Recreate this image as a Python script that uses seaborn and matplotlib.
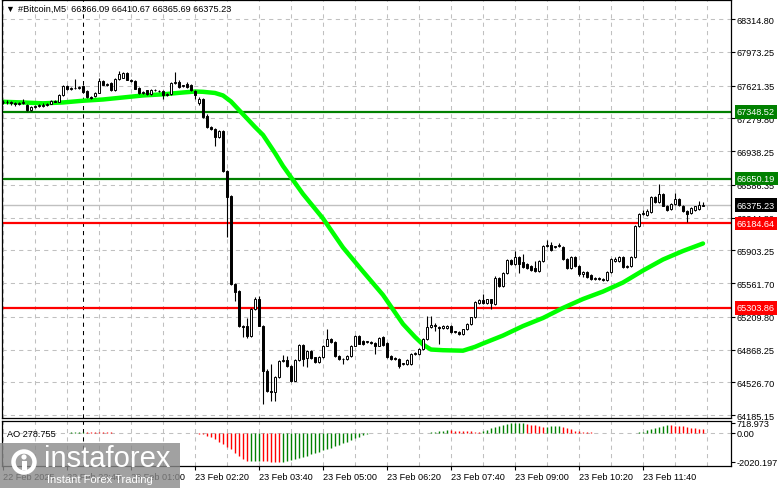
import numpy as np
import pandas as pd
import matplotlib
matplotlib.use("Agg")
import matplotlib.pyplot as plt
import seaborn as sns
from matplotlib.patches import Rectangle, Circle

# bar index: 0 = 23 Feb 00:00, one bar = 5 minutes
bar_start = -20

opens = [67450, 67445, 67455, 67435, 67425, 67440, 67420, 67370, 67400, 67405,
         67410, 67420, 67430, 67460, 67455, 67523, 67613, 67588, 67592, 67600,
         67620, 67560, 67500, 67515, 67545, 67670, 67630, 67650, 67570, 67690,
         67705, 67750, 67680, 67670, 67600, 67545, 67570, 67530, 67575, 67565,
         67560, 67525, 67530, 67650, 67660, 67615, 67640, 67630, 67560, 67440,
         67480, 67307, 67186, 67170, 67080, 67150, 66733, 66470, 65551, 65480,
         65115, 65110, 65010, 65290, 65395, 65117, 64647, 64440, 64420, 64578,
         64752, 64760, 64700, 64543, 64758, 64915, 64776, 64855, 64785, 64735,
         64790, 64908, 64978, 64945, 64804, 64770, 64765, 64800, 64908, 65013,
         64960, 64945, 64950, 64940, 64910, 65000, 64940, 64800, 64770, 64770,
         64715, 64720, 64720, 64820, 64825, 64874, 64978, 65100, 65120, 65100,
         65090, 65090, 65110, 65055, 65050, 65030, 65080, 65134, 65205, 65350,
         65380, 65350, 65390, 65345, 65612, 65535, 65667, 65802, 65760, 65830,
         65780, 65760, 65740, 65720, 65690, 65790, 65950, 65960, 65935, 65945,
         65940, 65810, 65720, 65830, 65740, 65656, 65680, 65650, 65600, 65605,
         65600, 65595, 65675, 65790, 65790, 65830, 65725, 65740, 65830, 66160,
         66280, 66270, 66300, 66455, 66410, 66490, 66370, 66330, 66390, 66440,
         66370, 66310, 66290, 66320, 66330, 66366.09]
highs = [67475, 67470, 67465, 67450, 67450, 67485, 67430, 67410, 67420, 67425,
         67435, 67440, 67470, 67475, 67530, 67625, 67625, 67605, 67690, 67615,
         67630, 67570, 67510, 67550, 67705, 67680, 67650, 67660, 67700, 67770,
         67760, 67760, 67690, 67680, 67610, 67560, 67580, 67590, 67585, 67575,
         67570, 67540, 67660, 67760, 67680, 67630, 67660, 67640, 67570, 67500,
         67490, 67320, 67200, 67180, 67160, 67160, 66745, 66480, 65560, 65490,
         65125, 65200, 65300, 65420, 65430, 65125, 64660, 64720, 64590, 64760,
         64810, 64800, 64710, 64770, 64930, 64925, 64860, 64865, 64795, 64800,
         64915, 65082, 64990, 64955, 64815, 64780, 64810, 64915, 65020, 65020,
         64970, 64960, 64960, 64950, 65000, 65010, 64950, 64810, 64785, 64780,
         64730, 64765, 64830, 64840, 64880, 64985, 65220, 65220, 65145, 65110,
         65125, 65120, 65120, 65065, 65060, 65085, 65140, 65210, 65375, 65390,
         65447, 65400, 65400, 65640, 65620, 65680, 65810, 65815, 65900, 65840,
         65860, 65770, 65750, 65790, 65800, 65960, 66010, 65990, 65950, 65980,
         65950, 65820, 65840, 65840, 65750, 65690, 65690, 65660, 65620, 65625,
         65615, 65685, 65825, 65830, 65840, 65840, 65750, 65840, 66170, 66290,
         66320, 66330, 66465, 66470, 66595, 66500, 66380, 66400, 66500, 66450,
         66380, 66320, 66350, 66370, 66420, 66410.67]
lows = [67430, 67425, 67420, 67410, 67415, 67430, 67360, 67360, 67390, 67395,
        67400, 67410, 67425, 67445, 67450, 67515, 67580, 67575, 67585, 67585,
        67545, 67490, 67480, 67505, 67540, 67625, 67620, 67565, 67565, 67680,
        67695, 67675, 67660, 67585, 67535, 67530, 67520, 67520, 67560, 67550,
        67480, 67515, 67525, 67640, 67600, 67605, 67600, 67565, 67480, 67420,
        67280, 67180, 67160, 66994, 67070, 66720, 66040, 65540, 65378, 65105,
        64995, 64990, 65000, 65280, 65110, 64300, 64430, 64335, 64335, 64570,
        64740, 64690, 64530, 64535, 64750, 64700, 64690, 64770, 64725, 64725,
        64780, 64900, 64935, 64795, 64760, 64720, 64755, 64790, 64900, 64925,
        64920, 64935, 64930, 64820, 64900, 64910, 64780, 64760, 64755, 64680,
        64705, 64710, 64710, 64810, 64815, 64865, 64970, 65090, 65060, 64930,
        65080, 65080, 65045, 65040, 65020, 65020, 65070, 65125, 65195, 65340,
        65340, 65340, 65290, 65335, 65525, 65525, 65655, 65750, 65750, 65670,
        65715, 65710, 65690, 65680, 65680, 65780, 65940, 65900, 65925, 65935,
        65800, 65710, 65710, 65730, 65640, 65620, 65610, 65590, 65590, 65595,
        65585, 65585, 65665, 65780, 65780, 65720, 65715, 65730, 65820, 66150,
        66270, 66260, 66290, 66400, 66400, 66360, 66310, 66320, 66380, 66370,
        66300, 66200, 66280, 66310, 66320, 66365.69]
closes = [67445, 67455, 67435, 67425, 67440, 67450, 67370, 67400, 67405, 67410,
          67420, 67430, 67460, 67455, 67523, 67613, 67588, 67592, 67600, 67605,
          67550, 67500, 67490, 67545, 67672, 67630, 67640, 67570, 67690, 67740,
          67750, 67680, 67670, 67590, 67540, 67550, 67530, 67580, 67570, 67560,
          67520, 67530, 67650, 67660, 67610, 67620, 67610, 67570, 67520, 67480,
          67290, 67186, 67170, 67081, 67150, 66733, 66456, 65551, 65465, 65115,
          65100, 65010, 65290, 65395, 65117, 64647, 64438, 64420, 64578, 64752,
          64760, 64700, 64543, 64758, 64915, 64770, 64855, 64776, 64735, 64790,
          64908, 64978, 64945, 64804, 64770, 64765, 64800, 64908, 65013, 64930,
          64930, 64950, 64940, 64910, 64990, 64920, 64790, 64770, 64768, 64700,
          64720, 64755, 64820, 64825, 64874, 64978, 65102, 65120, 65115, 65090,
          65115, 65110, 65055, 65050, 65030, 65080, 65134, 65205, 65360, 65380,
          65350, 65390, 65350, 65612, 65535, 65667, 65802, 65760, 65830, 65760,
          65725, 65720, 65700, 65690, 65790, 65950, 65960, 65910, 65940, 65950,
          65810, 65720, 65830, 65740, 65656, 65680, 65620, 65600, 65605, 65600,
          65595, 65675, 65812, 65810, 65830, 65725, 65740, 65830, 66160, 66280,
          66290, 66310, 66455, 66410, 66490, 66370, 66320, 66390, 66440, 66380,
          66310, 66280, 66340, 66360, 66380, 66375.23]

# moving average
ma_bars = [-20, -15, -10, -5, 0, 5, 10, 15, 20, 25, 28, 30, 33, 35, 37, 39, 41, 43, 45,
           48, 50, 55, 60, 65, 70, 75, 80, 83, 85, 87, 90, 95, 98, 100, 105, 110, 115,
           120, 125, 130, 135, 140, 145, 150, 155]
ma_values = [67452, 67445, 67436, 67445, 67463, 67476, 67497, 67518, 67530, 67549,
             67559, 67556, 67544, 67518, 67455, 67366, 67278, 67189, 67106, 66918,
             66782, 66490, 66235, 65932, 65682, 65437, 65134, 64999, 64920, 64868,
             64861, 64856, 64896, 64931, 65014, 65113, 65197, 65302, 65395, 65473,
             65567, 65692, 65807, 65896, 65974]

# Awesome Oscillator
ao_start = -5
ao_values = [20, 30, 40, 50, 55, 60,
             55, 52, 48, 45, 42, 40, 37, 35, 32, 30, 27, 25, 20, 15, 10,
             8, 6, 9, 7, 5, 6, 4, 5, 3, 2, 4, 3, 1,
             -50, -100, -190, -300, -430, -600, -790, -970, -1150, -1390, -1630, -1830, -1990,
             -1975, -1960, -1950,
             -1970, -1990, -2005, -2015, -2020.197,
             -2000, -1960, -1900, -1840, -1770, -1690, -1600, -1500, -1400, -1300, -1210,
             -1120, -1030, -940, -850, -730, -620, -500, -380, -260, -150,
             -80, -30, 10,
             8, 5, 0, -5, -10, -15, -20, -25, -30,
             -20, -10, 0, 20, 40,
             80, 130, 170, 200,
             190, 170, 150, 130, 120, 110, 100, 90,
             150, 230, 320, 400, 480, 560, 640, 690, 710, 715, 718.973,
             650, 590, 530, 470, 430,
             445, 460, 470, 480,
             420, 330, 250, 160,
             120, 90, 60, 40, 30, 20, 10, 0, -10, -20,
             -15, -10, 0, 10, 20, 40,
             100, 180, 260, 340, 420, 500, 560,
             540, 520, 490, 460, 420, 380, 340, 300, 278.755]

green_levels = [67348.52, 66650.19]
red_levels = [66184.64, 65303.86]
last_price = 66375.23
price_ticks = [68314.80, 67973.25, 67621.35, 67279.80, 66938.25, 66586.35, 66244.80,
               65903.25, 65561.70, 65209.80, 64868.25, 64526.70, 64185.15]
ao_ticks = [718.973, 0.0, -2020.197]
ao_tick_labels = ["718.973", "0.00", "-2020.197"]
time_ticks = [-20, -4, 12, 28, 44, 60, 76, 92, 108, 124, 140]
time_labels = ["22 Feb 2025", "22 Feb 22:40", "23 Feb 01:00", "23 Feb 02:20",
               "23 Feb 03:40", "23 Feb 05:00", "23 Feb 06:20", "23 Feb 07:40",
               "23 Feb 09:00", "23 Feb 10:20", "23 Feb 11:40"]
header = "#Bitcoin,M5  66366.09 66410.67 66365.69 66375.23"

sns.set_theme(style="white")
plt.rcParams['font.family'] = ['Liberation Sans', 'DejaVu Sans']

W, H = 781, 489
fig = plt.figure(figsize=(W / 100, H / 100), dpi=100)
fig.patch.set_facecolor("white")


def box(x0, y0, x1, y1):
    return [x0 / W, 1 - y1 / H, (x1 - x0) / W, (y1 - y0) / H]


ax = fig.add_axes(box(2, 1, 731, 419))
ax2 = fig.add_axes(box(2, 421.5, 731, 467), sharex=ax)

df = pd.DataFrame({"open": opens, "high": highs, "low": lows, "close": closes})
df["bar"] = np.arange(bar_start, bar_start + len(df))
up = df["close"] >= df["open"]

grid_kw = dict(color="#c0c0c0", ls=(0, (4, 4)), lw=0.75, zorder=0.5)
for a in (ax, ax2):
    for k in range(-20, 160, 8):
        a.axvline(k, **grid_kw)
    a.axvline(0, color="black", ls=(0, (4, 4)), lw=0.75, zorder=0.6)
    a.set_facecolor("white")
    for s in a.spines.values():
        s.set_color("black")
        s.set_linewidth(0.9)
for p in price_ticks:
    ax.axhline(p, **grid_kw)

ax.axhline(last_price, color="#c0c0c0", lw=1, zorder=1)
for lv in green_levels:
    ax.axhline(lv, color="#008000", lw=1.6, zorder=1.2)
for lv in red_levels:
    ax.axhline(lv, color="#ff0000", lw=1.6, zorder=1.2)

sns.lineplot(x=ma_bars, y=ma_values, ax=ax, color="#00ff00", lw=3.2,
             solid_capstyle="round", zorder=2)

ax.vlines(df["bar"], df["low"], df["high"], color="black", lw=0.8, zorder=3)
ax.bar(df["bar"], (df["close"] - df["open"]).abs().clip(lower=9),
       bottom=df[["open", "close"]].min(axis=1), width=0.62,
       color=np.where(up, "white", "black"), edgecolor="black", linewidth=0.7, zorder=4)

ax.set_xlim(-20.25, 162)
ax.set_ylim(64153.9, 68513.7)
ax.yaxis.tick_right()
ax.set_yticks(price_ticks)
ax.set_yticklabels([f"{p:.2f}" for p in price_ticks])
ax.tick_params(axis="y", right=True, length=2.9, width=0.8, pad=1.4,
               labelsize=6.6, colors="black")
ax.tick_params(axis="x", bottom=False, labelbottom=False)
ax.set_xlabel("")
ax.set_ylabel("")

tr = ax.get_yaxis_transform()
for lv, fc in [(green_levels[0], "#008000"), (green_levels[1], "#008000"),
               (last_price, "black"), (red_levels[0], "#ff0000"), (red_levels[1], "#ff0000")]:
    ax.text(1.0082, lv, f"{lv:.2f}", transform=tr, color="white", fontsize=6.6,
            va="center", ha="left", clip_on=False, zorder=10,
            bbox=dict(boxstyle="square,pad=0.25", fc=fc, ec="none"))

# AO histogram
ao_bars = np.arange(ao_start, ao_start + len(ao_values))
ao = np.array(ao_values)
ao_colors = np.where(np.diff(ao, prepend=ao[0] - 1) > 0, "#008000", "#ff0000")
ax2.axhline(0, **grid_kw)
ax2.vlines(ao_bars, 0, ao, colors=ao_colors, lw=1.0, zorder=3)
ax2.set_ylim(-2310, 875)
ax2.yaxis.tick_right()
ax2.set_yticks(ao_ticks)
ax2.set_yticklabels(ao_tick_labels)
ax2.tick_params(axis="y", right=True, length=2.9, width=0.8, pad=1.4,
                labelsize=6.6, colors="black")
ax2.set_xticks(time_ticks)
ax2.set_xticklabels(time_labels)
ax2.tick_params(axis="x", bottom=True, length=2.9, width=0.8, pad=1.6,
                labelsize=6.6, colors="black")
for lbl in ax2.get_xticklabels():
    lbl.set_ha("left")
ax2.text(0.007, 0.72, "AO 278.755", transform=ax2.transAxes, fontsize=6.6,
         va="center", ha="left", color="black")

# header and watermark on a pixel overlay
ov = fig.add_axes([0, 0, 1, 1], zorder=10)
ov.set_xlim(0, W)
ov.set_ylim(H, 0)
ov.axis("off")
ov.patch.set_alpha(0)
ov.text(5, 9, "\u25bc", fontsize=6.5, va="center", ha="left", color="black")
ov.text(18, 9, header, fontsize=6.6, va="center", ha="left", color="black")

ov.add_patch(Rectangle((0, 444), 180, 45, fc="#8a8a8a", ec="none", alpha=0.8))
ov.add_patch(Circle((24, 463), 10.5, fc="none", ec="white", lw=3.2))
ov.add_patch(Circle((24, 458), 2.6, fc="white", ec="none"))
ov.add_patch(Rectangle((21.5, 462), 5, 9, fc="white", ec="none"))
ov.text(44, 459, "instaforex", fontsize=21, color="white", va="center", ha="left")
ov.text(47, 480, "Instant Forex Trading", fontsize=8, color="white", va="center", ha="left")

fig.savefig("out.png", dpi=100, facecolor="white")
